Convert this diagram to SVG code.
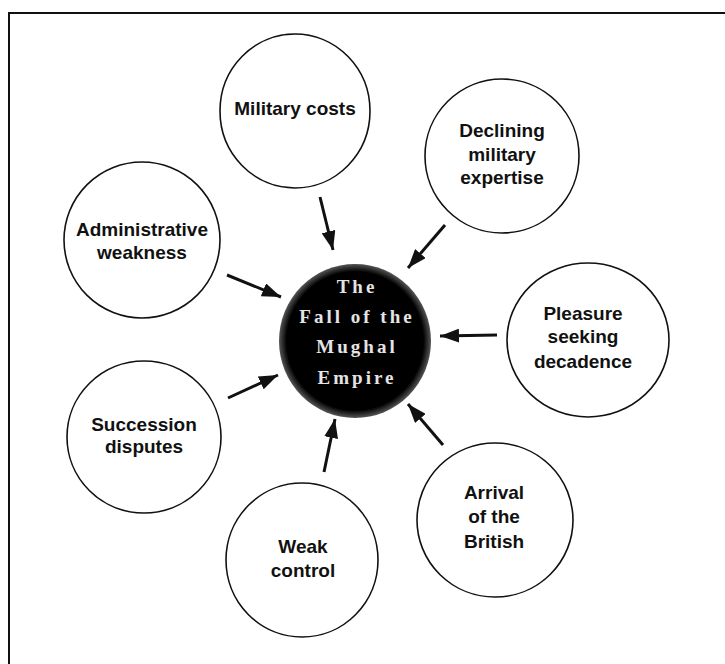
<svg xmlns="http://www.w3.org/2000/svg" width="725" height="664" viewBox="0 0 725 664">
<style>
.node{fill:#fff;stroke:#111;stroke-width:1.6}
.lbl{font-family:"Liberation Sans",Arial,sans-serif;font-weight:bold;font-size:19px;fill:#111;text-anchor:middle}
.ctr{font-family:"Liberation Serif","Times New Roman",serif;font-weight:bold;font-size:19px;fill:#e4e4e4;text-anchor:middle;letter-spacing:3px}
.arr{stroke:#111;stroke-width:3;fill:none;marker-end:url(#ah)}
</style>
<defs>
<marker id="ah" markerUnits="userSpaceOnUse" markerWidth="20" markerHeight="14" refX="19" refY="7" orient="auto">
<path d="M0,0 L19,7 L0,14 z" fill="#111"/>
</marker>
<radialGradient id="halo" cx="0.5" cy="0.5" r="0.5">
<stop offset="0.9" stop-color="#000"/>
<stop offset="1" stop-color="#555"/>
</radialGradient>
</defs>
<rect width="725" height="664" fill="#fff"/>
<g id="frame" fill="none" stroke="#111" stroke-width="2">
<path d="M9,664 L9,13 L725,13"/>
</g>
<g id="connectors">
<line class="arr" x1="320" y1="197" x2="333" y2="250"/>
<line class="arr" x1="445" y1="225" x2="408" y2="268"/>
<line class="arr" x1="497" y1="335" x2="440" y2="336"/>
<line class="arr" x1="443" y1="445" x2="408" y2="404"/>
<line class="arr" x1="324" y1="472" x2="335" y2="419"/>
<line class="arr" x1="228" y1="398" x2="278" y2="375"/>
<line class="arr" x1="227" y1="275" x2="281" y2="297"/>
</g>
<g id="center">
<ellipse cx="355" cy="341" rx="76" ry="77" fill="url(#halo)"/>
<text class="ctr" x="357" y="293">The</text>
<text class="ctr" x="357" y="323">Fall of the</text>
<text class="ctr" x="357" y="353">Mughal</text>
<text class="ctr" x="357" y="384">Empire</text>
</g>
<g id="military-costs">
<ellipse class="node" cx="295" cy="111" rx="75" ry="77"/>
<text class="lbl" x="295" y="115">Military costs</text>
</g>
<g id="declining-military-expertise">
<ellipse class="node" cx="502" cy="156" rx="77" ry="77"/>
<text class="lbl" x="502" y="137">Declining</text>
<text class="lbl" x="502" y="161">military</text>
<text class="lbl" x="502" y="184">expertise</text>
</g>
<g id="pleasure-seeking-decadence">
<ellipse class="node" cx="588" cy="340" rx="81" ry="77"/>
<text class="lbl" x="583" y="320">Pleasure</text>
<text class="lbl" x="583" y="343">seeking</text>
<text class="lbl" x="583" y="368">decadence</text>
</g>
<g id="arrival-of-the-british">
<ellipse class="node" cx="495" cy="520" rx="78" ry="77"/>
<text class="lbl" x="494" y="499">Arrival</text>
<text class="lbl" x="494" y="523">of the</text>
<text class="lbl" x="494" y="548">British</text>
</g>
<g id="weak-control">
<ellipse class="node" cx="302" cy="560" rx="76" ry="77"/>
<text class="lbl" x="303" y="553">Weak</text>
<text class="lbl" x="303" y="577">control</text>
</g>
<g id="succession-disputes">
<ellipse class="node" cx="144" cy="437" rx="77" ry="76"/>
<text class="lbl" x="144" y="431">Succession</text>
<text class="lbl" x="144" y="453">disputes</text>
</g>
<g id="administrative-weakness">
<ellipse class="node" cx="142" cy="240" rx="78" ry="78"/>
<text class="lbl" x="142" y="236">Administrative</text>
<text class="lbl" x="142" y="259">weakness</text>
</g>
</svg>
